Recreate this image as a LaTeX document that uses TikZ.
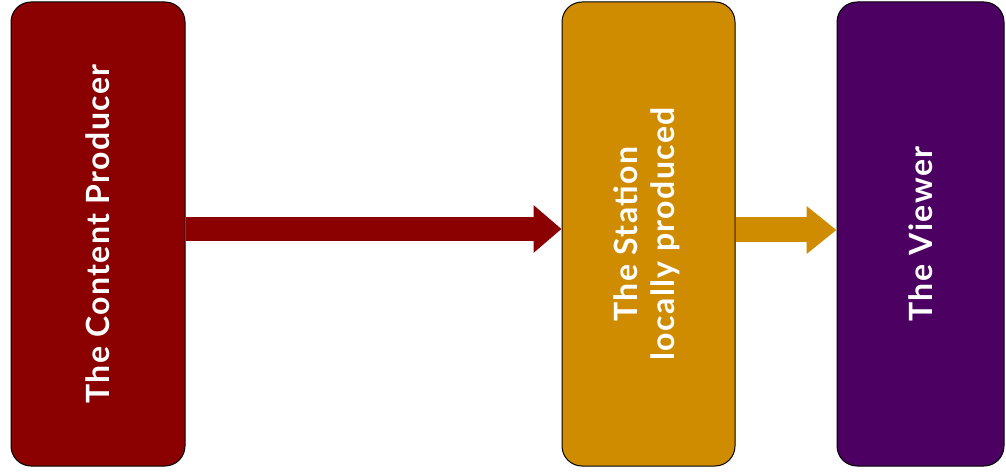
\documentclass[tikz,border=0pt]{standalone}
\usepackage{fontspec}
\setsansfont[LetterSpace=4.5]{Lato}
\usetikzlibrary{arrows.meta,positioning}
\definecolor{producerred}{HTML}{8B0000}
\definecolor{stationgold}{HTML}{D08C00}
\definecolor{viewerpurple}{HTML}{4B0062}
\tikzstyle{stage}=[draw=black, line width=1pt, rounded corners=20pt, minimum height=464pt, inner sep=0pt, text=white, font=\sffamily\bfseries\fontsize{32}{37}\selectfont]
\tikzstyle{flow}=[line width=24pt, -{Triangle[length=28pt,width=46pt]}]

\begin{document}
\begin{tikzpicture}[x=1pt,y=1pt,node distance=376pt]
    \useasboundingbox (0,0) rectangle (1006,474);
    \node [stage, fill=producerred, minimum width=174pt] (prod) at (98,240) {\rotatebox{90}{The Content Producer}};
    \node [stage, fill=stationgold, minimum width=173pt] (stat) [right=376pt of prod] {\rotatebox{90}{\begin{tabular}{@{}c@{}}The Station\\locally produced\end{tabular}}};
    \node [stage, fill=viewerpurple, minimum width=167pt] (view) [right=101pt of stat] {\rotatebox{90}{The Viewer}};
    \path
    ([yshift=5pt]prod.east) edge [flow, draw=producerred] ([yshift=5pt]stat.west)
    ([yshift=4pt]stat.east) edge [flow, draw=stationgold, line width=25pt, -{Triangle[length=30pt,width=46pt]}] ([yshift=4pt]view.west);
\end{tikzpicture}
\end{document}
